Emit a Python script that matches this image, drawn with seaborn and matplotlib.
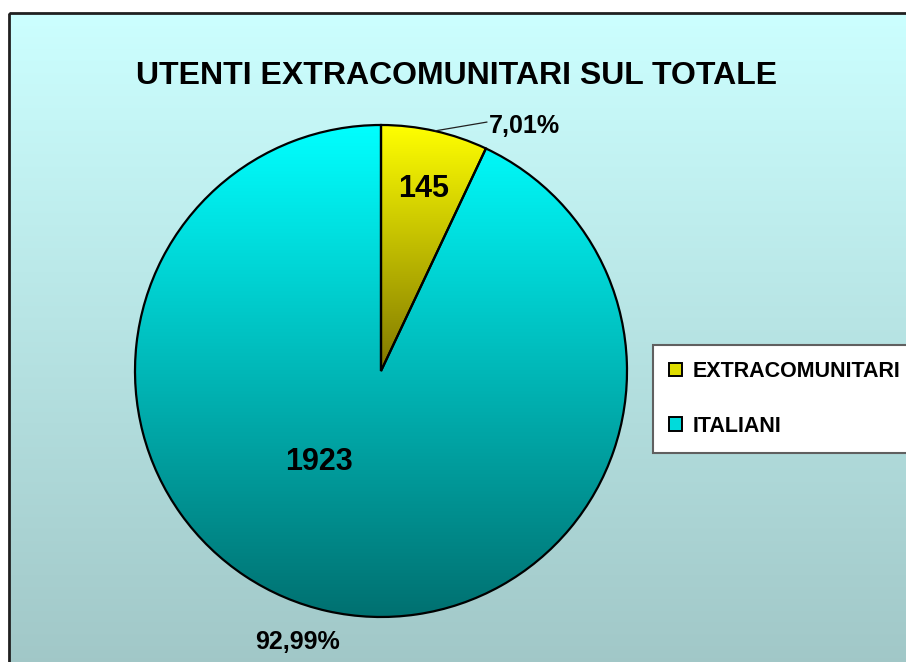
import numpy as np
import matplotlib
matplotlib.use("Agg")
import matplotlib.pyplot as plt
import seaborn as sns
from matplotlib.patches import Patch, Rectangle

# data
categories = ["EXTRACOMUNITARI", "ITALIANI"]
counts = [145, 1923]
title = "UTENTI EXTRACOMUNITARI SUL TOTALE"

# gradient colours per slice (top -> bottom) and background
slice_grads = [["#FFFF00", "#807800"], ["#00FFFF", "#007070"]]
bg_grad = ["#CCFFFF", "#A0C6C6"]

sns.set_theme(style="white")
plt.rcParams["font.family"] = ["Liberation Sans", "DejaVu Sans"]
plt.rcParams["font.weight"] = "bold"

W, H = 906, 662
fig = plt.figure(figsize=(W / 100, H / 100), dpi=100, facecolor="white")

# background panel, pixel coordinates
bg = fig.add_axes([0, 0, 1, 1])
grad = np.linspace(0, 1, 256).reshape(-1, 1)
bg.imshow(grad, cmap=sns.blend_palette(bg_grad, as_cmap=True),
          extent=[9, W + 20, H + 20, 13], aspect="auto")
bg.add_patch(Rectangle((9, 13), W + 50, H + 50, fill=False,
                       edgecolor="#202020", lw=2))
bg.set_xlim(0, W)
bg.set_ylim(H, 0)
bg.axis("off")
bg.text(457, 76, title, ha="center", va="center", fontsize=23,
        fontweight="bold", color="black")

# pie axes
cx, cy, r = 381, 371, 246
ax = fig.add_axes([(cx - r) / W, (H - cy - r) / H, 2 * r / W, 2 * r / H])
wedges, _ = ax.pie(counts, startangle=90, counterclock=False,
                   wedgeprops=dict(edgecolor="black", linewidth=1.6,
                                   facecolor="none"))

for w, cols in zip(wedges, slice_grads):
    verts = w.get_patch_transform().transform(w.get_path().vertices)
    x0, y0 = verts.min(axis=0)
    x1, y1 = verts.max(axis=0)
    im = ax.imshow(grad, cmap=sns.blend_palette(cols, as_cmap=True),
                   extent=[x0, x1, y0, y1], aspect="auto", zorder=0.5)
    im.set_clip_path(w)

total = sum(counts)
pct_labels = [f"{c / total * 100:.2f}%".replace(".", ",") for c in counts]

# value labels inside slices
value_pos = [(0.175, 0.74), (-0.252, -0.37)]
for c, (x, y) in zip(counts, value_pos):
    ax.text(x, y, str(c), ha="center", va="center", fontsize=22,
            fontweight="bold", color="black")

# percentage labels outside
pct_pos = [(0.585, 0.996), (-0.341, -1.10)]
for p, (x, y) in zip(pct_labels, pct_pos):
    ax.text(x, y, p, ha="center", va="center", fontsize=18,
            fontweight="bold", color="black", clip_on=False)

# leader line for small slice
w0 = wedges[0]
mid = np.deg2rad((w0.theta1 + w0.theta2) / 2)
ax.plot([np.cos(mid), 0.431], [np.sin(mid), 1.012], color="#202020",
        lw=0.9, clip_on=False)

ax.set_xlim(-1, 1)
ax.set_ylim(-1, 1)
ax.set_aspect("equal")
ax.axis("off")

# legend
handles = [Patch(facecolor=sns.blend_palette(cols, 5)[1], edgecolor="black",
                 linewidth=1.4) for cols in slice_grads]
leg = fig.legend(handles, categories, loc="upper left",
                 bbox_to_anchor=(653 / W, 1 - 345 / H), borderaxespad=0,
                 frameon=True, fontsize=15.5, labelcolor="black",
                 handlelength=0.6, handleheight=0.6,
                 handletextpad=0.5, labelspacing=1.55, borderpad=0.75,
                 fancybox=False, framealpha=1, facecolor="white",
                 edgecolor="#606060")
leg.get_frame().set_linewidth(1.5)
for t in leg.get_texts():
    t.set_fontweight("bold")

fig.savefig("out.png", dpi=100, facecolor="white")
